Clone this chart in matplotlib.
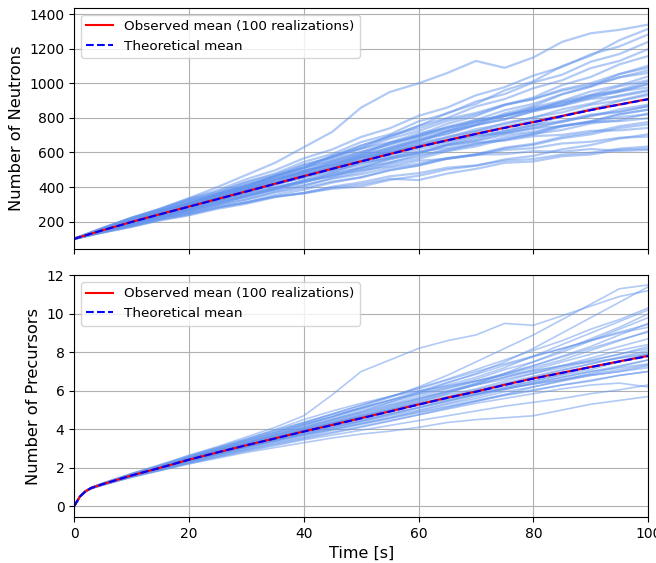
import numpy as np
import matplotlib
matplotlib.use("Agg")
import matplotlib.pyplot as plt

# time grids
t_neu = [0, 5, 10, 15, 20, 25, 30, 35, 40, 45, 50, 55, 60, 65, 70, 75, 80, 85, 90, 95, 100]
t_pre = [0, 1, 2, 3, 5, 10, 15, 20, 25, 30, 35, 40, 45, 50, 55, 60, 65, 70, 75, 80, 85, 90, 95, 100]

# mean curves
neu_theory = [100, 150, 197, 242, 286, 330, 374, 418, 462, 505, 548, 590, 632, 670, 707, 742, 775, 810, 845, 877, 908]
neu_observed = [100, 150, 198, 243, 287, 331, 375, 419, 463, 506, 549, 591, 633, 671, 708, 743, 776, 811, 846, 878, 909]
pre_theory = [0, 0.5, 0.78, 0.95, 1.15, 1.6, 2.0, 2.42, 2.8, 3.17, 3.52, 3.88, 4.22, 4.57, 4.92, 5.28, 5.63, 5.95, 6.3, 6.63, 6.93, 7.23, 7.52, 7.8]
pre_observed = [0, 0.5, 0.78, 0.95, 1.15, 1.6, 2.0, 2.42, 2.8, 3.17, 3.53, 3.89, 4.23, 4.58, 4.93, 5.29, 5.64, 5.96, 6.31, 6.64, 6.94, 7.24, 7.53, 7.81]

# a subset of the individual realizations, estimated by eye
neu_runs = [
    [100, 162, 220, 275, 335, 400, 470, 540, 630, 720, 860, 950, 1000, 1060, 1130, 1090, 1150, 1240, 1290, 1310, 1340],
    [100, 163, 221, 270, 325, 370, 430, 478, 545, 592, 660, 705, 780, 825, 895, 938, 1005, 1050, 1125, 1170, 1240],
    [100, 138, 173, 213, 244, 281, 310, 345, 365, 396, 415, 448, 440, 478, 505, 540, 548, 578, 588, 615, 622],
    [100, 147, 190, 235, 273, 318, 352, 396, 428, 470, 498, 544, 575, 618, 645, 688, 712, 755, 780, 822, 848],
    [100, 155, 209, 254, 306, 348, 399, 440, 492, 531, 582, 620, 674, 710, 760, 792, 838, 872, 921, 950, 996],
    [100, 144, 183, 227, 262, 308, 343, 391, 426, 474, 510, 560, 595, 645, 678, 727, 758, 810, 846, 898, 932],
    [100, 142, 179, 222, 255, 297, 327, 368, 395, 432, 456, 498, 526, 566, 590, 628, 650, 690, 715, 752, 776],
    [100, 158, 207, 261, 306, 361, 406, 465, 512, 574, 621, 680, 724, 782, 820, 874, 909, 965, 1001, 1055, 1090],
    [100, 152, 198, 247, 288, 336, 373, 419, 453, 497, 527, 572, 601, 642, 665, 702, 720, 755, 774, 805, 820],
    [100, 149, 191, 239, 277, 327, 366, 417, 458, 510, 551, 603, 640, 690, 723, 771, 801, 850, 883, 930, 962],
    [100, 153, 206, 250, 301, 342, 392, 430, 480, 516, 563, 598, 648, 677, 722, 748, 787, 813, 854, 876, 912],
    [100, 145, 185, 230, 266, 310, 341, 383, 411, 449, 474, 512, 535, 568, 584, 614, 625, 652, 662, 685, 692],
    [100, 151, 203, 245, 295, 337, 390, 432, 488, 530, 587, 628, 685, 723, 776, 812, 862, 899, 953, 989, 1040],
    [100, 140, 177, 218, 251, 295, 328, 373, 406, 452, 486, 532, 563, 607, 635, 677, 703, 750, 780, 820, 848],
    [100, 158, 215, 262, 317, 360, 414, 457, 511, 552, 604, 644, 698, 732, 781, 812, 855, 885, 931, 957, 996],
    [100, 137, 171, 210, 240, 281, 312, 354, 384, 426, 456, 497, 524, 563, 586, 623, 644, 682, 705, 741, 763],
    [100, 150, 200, 242, 290, 332, 382, 423, 476, 515, 570, 605, 657, 688, 735, 763, 804, 832, 876, 901, 940],
    [100, 157, 206, 259, 304, 358, 401, 457, 503, 560, 603, 657, 695, 744, 775, 820, 845, 889, 915, 954, 976],
    [100, 149, 198, 240, 288, 327, 375, 411, 459, 493, 540, 572, 620, 647, 689, 713, 751, 775, 814, 834, 868],
    [100, 148, 197, 237, 284, 325, 377, 419, 474, 518, 576, 614, 670, 706, 758, 792, 840, 876, 928, 962, 1010],
    [100, 136, 169, 207, 236, 274, 303, 341, 366, 402, 427, 462, 480, 512, 525, 552, 562, 588, 598, 622, 634],
    [100, 155, 201, 253, 295, 348, 390, 446, 491, 548, 591, 649, 693, 749, 789, 844, 881, 938, 980, 1035, 1075],
    [100, 147, 188, 234, 271, 317, 353, 400, 435, 482, 514, 563, 595, 640, 669, 712, 737, 781, 809, 850, 877],
    [100, 152, 204, 247, 297, 336, 386, 423, 471, 506, 551, 584, 632, 659, 700, 723, 760, 782, 819, 837, 868],
    [100, 156, 203, 256, 299, 351, 391, 444, 485, 538, 575, 629, 669, 722, 759, 810, 843, 896, 933, 983, 1018],
    [100, 143, 188, 225, 268, 304, 350, 385, 430, 463, 511, 540, 586, 610, 650, 672, 708, 730, 768, 787, 826],
    [100, 157, 212, 259, 312, 359, 416, 464, 528, 575, 641, 688, 755, 800, 866, 909, 972, 1018, 1088, 1130, 1198],
    [100, 152, 197, 247, 288, 341, 384, 440, 486, 545, 591, 654, 701, 766, 810, 875, 918, 990, 1037, 1110, 1158],
    [100, 148, 190, 237, 275, 325, 365, 417, 459, 514, 556, 616, 660, 722, 763, 826, 868, 936, 984, 1053, 1102],
    [100, 162, 221, 271, 328, 373, 428, 472, 529, 569, 623, 659, 711, 742, 788, 812, 850, 871, 910, 925, 955],
    [100, 141, 185, 220, 262, 300, 349, 388, 441, 483, 540, 566, 606, 625, 657, 669, 694, 702, 725, 728, 742],
    [100, 163, 223, 274, 333, 382, 445, 497, 566, 618, 690, 740, 812, 860, 931, 978, 1045, 1095, 1168, 1214, 1283],
    [100, 148, 198, 238, 286, 321, 365, 396, 437, 462, 498, 520, 552, 563, 588, 590, 608, 604, 620, 609, 615],
    [100, 155, 202, 254, 297, 354, 401, 463, 515, 583, 638, 696, 739, 794, 829, 878, 909, 958, 990, 1035, 1060],
    [100, 140, 176, 217, 249, 286, 311, 345, 363, 390, 403, 441, 465, 502, 523, 560, 580, 618, 643, 681, 705],
    [100, 159, 216, 264, 319, 360, 410, 447, 495, 527, 570, 600, 642, 664, 698, 713, 741, 752, 777, 781, 798],
    [100, 157, 205, 258, 302, 357, 403, 463, 512, 578, 627, 697, 752, 829, 881, 960, 1012, 1100, 1160, 1250, 1315],
]

pre_runs = [
    [0, 0.52, 0.8, 0.98, 1.2, 1.7, 2.15, 2.65, 3.1, 3.6, 4.1, 4.7, 5.8, 7.0, 7.6, 8.2, 8.6, 8.9, 9.5, 9.4, 9.9, 10.4, 10.9, 11.2],
    [0, 0.5, 0.78, 0.96, 1.17, 1.62, 2.05, 2.5, 2.9, 3.3, 3.7, 4.1, 4.5, 4.9, 5.4, 5.9, 6.4, 6.9, 7.5, 8.2, 9.0, 9.8, 10.6, 11.4],
    [0, 0.48, 0.75, 0.92, 1.1, 1.5, 1.85, 2.2, 2.5, 2.8, 3.05, 3.3, 3.55, 3.75, 3.9, 4.1, 4.35, 4.5, 4.6, 4.7, 5.0, 5.3, 5.5, 5.7],
    [0, 0.5, 0.79, 0.96, 1.16, 1.63, 2.05, 2.5, 2.95, 3.4, 3.8, 4.25, 4.65, 5.1, 5.5, 5.85, 6.2, 6.6, 7.1, 7.5, 8.0, 8.6, 9.2, 9.8],
    [0, 0.49, 0.77, 0.94, 1.13, 1.56, 1.95, 2.35, 2.7, 3.05, 3.4, 3.7, 4.0, 4.3, 4.6, 4.95, 5.3, 5.6, 5.95, 6.2, 6.5, 6.8, 7.0, 7.3],
    [0, 0.5, 0.78, 0.95, 1.15, 1.6, 2.0, 2.45, 2.85, 3.2, 3.55, 3.95, 4.3, 4.7, 5.05, 5.45, 5.8, 6.1, 6.5, 6.9, 7.3, 7.7, 8.1, 8.4],
    [0, 0.51, 0.79, 0.97, 1.17, 1.64, 2.08, 2.55, 2.98, 3.4, 3.85, 4.3, 4.75, 5.1, 5.5, 5.9, 6.3, 6.7, 7.2, 7.8, 8.4, 9.0, 9.6, 10.2],
    [0, 0.49, 0.77, 0.93, 1.12, 1.55, 1.92, 2.3, 2.65, 2.95, 3.3, 3.6, 3.95, 4.25, 4.55, 4.85, 5.15, 5.45, 5.75, 6.0, 6.3, 6.5, 6.8, 7.0],
    [0, 0.5, 0.78, 0.95, 1.15, 1.6, 2.02, 2.42, 2.82, 3.2, 3.6, 4.0, 4.4, 4.8, 5.2, 5.6, 6.0, 6.35, 6.7, 7.1, 7.5, 7.9, 8.3, 8.7],
    [0, 0.5, 0.77, 0.94, 1.14, 1.58, 1.98, 2.38, 2.76, 3.1, 3.45, 3.8, 4.12, 4.45, 4.8, 5.15, 5.5, 5.8, 6.1, 6.4, 6.7, 7.0, 7.3, 7.6],
    [0, 0.51, 0.8, 0.97, 1.18, 1.66, 2.1, 2.6, 3.05, 3.5, 3.95, 4.35, 4.8, 5.25, 5.7, 6.1, 6.55, 7.0, 7.4, 7.8, 8.2, 8.6, 9.0, 9.3],
    [0, 0.49, 0.76, 0.93, 1.12, 1.54, 1.9, 2.25, 2.6, 2.95, 3.25, 3.55, 3.85, 4.15, 4.45, 4.75, 5.05, 5.35, 5.6, 5.85, 6.1, 6.3, 6.4, 6.2],
    [0, 0.5, 0.78, 0.95, 1.16, 1.62, 2.03, 2.45, 2.85, 3.25, 3.6, 4.0, 4.35, 4.7, 5.1, 5.5, 5.9, 6.3, 6.7, 7.0, 7.3, 7.6, 7.9, 8.2],
    [0, 0.5, 0.79, 0.96, 1.16, 1.61, 2.02, 2.44, 2.84, 3.2, 3.56, 3.9, 4.28, 4.6, 4.95, 5.3, 5.6, 5.9, 6.2, 6.5, 6.8, 7.1, 7.5, 7.9],
    [0, 0.49, 0.77, 0.94, 1.14, 1.58, 1.97, 2.36, 2.72, 3.08, 3.42, 3.75, 4.1, 4.4, 4.7, 5.0, 5.35, 5.7, 6.05, 6.4, 6.7, 7.0, 7.2, 7.4],
    [0, 0.51, 0.79, 0.97, 1.18, 1.65, 2.07, 2.5, 2.92, 3.32, 3.72, 4.15, 4.55, 5.0, 5.4, 5.8, 6.15, 6.5, 6.85, 7.2, 7.6, 8.1, 8.6, 9.1],
    [0, 0.5, 0.78, 0.95, 1.15, 1.59, 1.99, 2.4, 2.78, 3.14, 3.5, 3.85, 4.2, 4.55, 4.9, 5.25, 5.55, 5.85, 6.1, 6.35, 6.6, 6.85, 7.1, 7.35],
    [0, 0.5, 0.78, 0.95, 1.15, 1.6, 2.01, 2.43, 2.83, 3.22, 3.6, 3.98, 4.35, 4.75, 5.15, 5.55, 5.95, 6.4, 6.85, 7.3, 7.8, 8.3, 8.9, 9.5],
    [0, 0.49, 0.76, 0.93, 1.12, 1.55, 1.93, 2.32, 2.68, 3.02, 3.35, 3.68, 4.0, 4.3, 4.6, 4.9, 5.2, 5.5, 5.8, 6.05, 6.3, 6.55, 6.8, 7.0],
    [0, 0.51, 0.8, 0.98, 1.19, 1.67, 2.1, 2.55, 3.0, 3.45, 3.9, 4.35, 4.8, 5.25, 5.7, 6.15, 6.6, 7.1, 7.6, 8.1, 8.6, 9.2, 9.7, 10.3],
    [0, 0.5, 0.78, 0.95, 1.15, 1.6, 2.0, 2.4, 2.8, 3.18, 3.55, 3.92, 4.3, 4.65, 5.0, 5.35, 5.7, 6.05, 6.4, 6.75, 7.1, 7.4, 7.7, 8.0],
    [0, 0.5, 0.77, 0.94, 1.13, 1.57, 1.96, 2.36, 2.74, 3.1, 3.46, 3.8, 4.15, 4.48, 4.8, 5.12, 5.45, 5.8, 6.15, 6.5, 6.85, 7.2, 7.55, 7.9],
    [0, 0.5, 0.79, 0.96, 1.17, 1.63, 2.05, 2.47, 2.88, 3.28, 3.67, 4.05, 4.45, 4.85, 5.25, 5.6, 5.95, 6.3, 6.6, 6.9, 7.2, 7.55, 7.9, 8.3],
    [0, 0.49, 0.77, 0.94, 1.13, 1.56, 1.94, 2.33, 2.7, 3.06, 3.4, 3.73, 4.06, 4.4, 4.75, 5.1, 5.45, 5.8, 6.1, 6.35, 6.55, 6.8, 7.0, 7.2],
    [0, 0.51, 0.79, 0.97, 1.19, 1.67, 2.1, 2.56, 2.99, 3.41, 3.82, 4.24, 4.65, 5.08, 5.52, 5.97, 6.43, 6.85, 7.32, 7.77, 8.19, 8.63, 9.05, 9.45],
    [0, 0.49, 0.76, 0.93, 1.1, 1.52, 1.88, 2.25, 2.58, 2.9, 3.2, 3.5, 3.8, 4.1, 4.42, 4.75, 5.1, 5.45, 5.8, 6.2, 6.55, 6.9, 7.25, 7.6],
    [0, 0.51, 0.8, 0.98, 1.2, 1.7, 2.16, 2.62, 3.05, 3.5, 3.98, 4.5, 4.95, 5.35, 5.7, 6.0, 6.25, 6.5, 6.8, 7.05, 7.3, 7.5, 7.7, 7.9],
    [0, 0.5, 0.78, 0.95, 1.15, 1.6, 2.0, 2.4, 2.78, 3.15, 3.5, 3.87, 4.25, 4.62, 5.0, 5.4, 5.85, 6.35, 6.9, 7.5, 8.1, 8.7, 9.3, 10.0],
    [0, 0.49, 0.76, 0.92, 1.11, 1.52, 1.87, 2.22, 2.55, 2.86, 3.15, 3.45, 3.7, 3.95, 4.2, 4.45, 4.7, 4.95, 5.2, 5.4, 5.6, 5.85, 6.05, 6.3],
    [0, 0.5, 0.79, 0.96, 1.16, 1.62, 2.04, 2.46, 2.88, 3.28, 3.68, 4.08, 4.5, 4.9, 5.3, 5.7, 6.1, 6.5, 6.9, 7.3, 7.75, 8.2, 8.65, 9.05],
    [0, 0.5, 0.78, 0.95, 1.14, 1.59, 1.99, 2.4, 2.8, 3.18, 3.56, 3.93, 4.28, 4.64, 5.0, 5.33, 5.66, 6.0, 6.35, 6.7, 7.05, 7.4, 7.75, 8.1],
    [0, 0.5, 0.79, 0.96, 1.16, 1.62, 2.04, 2.47, 2.9, 3.32, 3.75, 4.2, 4.65, 5.15, 5.65, 6.2, 6.8, 7.5, 8.2, 8.9, 9.7, 10.5, 11.3, 11.5],
]

plt.rcParams['font.size'] = 10

fig = plt.figure(figsize=(6.56, 5.63), dpi=100)
ax1 = fig.add_axes([0.113, 0.558, 0.875, 0.428])
ax2 = fig.add_axes([0.113, 0.082, 0.875, 0.429], sharex=ax1)

for run in neu_runs:
    ax1.plot(t_neu, run, color='cornflowerblue', alpha=0.5, lw=1.6)
ax1.plot(t_neu, neu_observed, color='red', lw=1.5, label='Observed mean (100 realizations)')
ax1.plot(t_neu, neu_theory, color='blue', ls='--', lw=1.5, label='Theoretical mean')
ax1.set_ylabel('Number of Neutrons', fontsize=11.7)
ax1.set_ylim(42, 1437)
ax1.grid(True)
ax1.legend(loc='upper left', fontsize=9.7)
ax1.tick_params(labelbottom=False)

for run in pre_runs:
    ax2.plot(t_pre, run, color='cornflowerblue', alpha=0.5, lw=1.2)
ax2.plot(t_pre, pre_observed, color='red', lw=1.5, label='Observed mean (100 realizations)')
ax2.plot(t_pre, pre_theory, color='blue', ls='--', lw=1.5, label='Theoretical mean')
ax2.set_ylabel('Number of Precursors', fontsize=11.7)
ax2.set_xlabel('Time [s]', fontsize=11.5)
ax2.set_ylim(-0.55, 12.0)
ax2.set_xlim(0, 100)
ax2.grid(True)
ax2.legend(loc='upper left', fontsize=9.7)

fig.savefig('out.png', dpi=100)
